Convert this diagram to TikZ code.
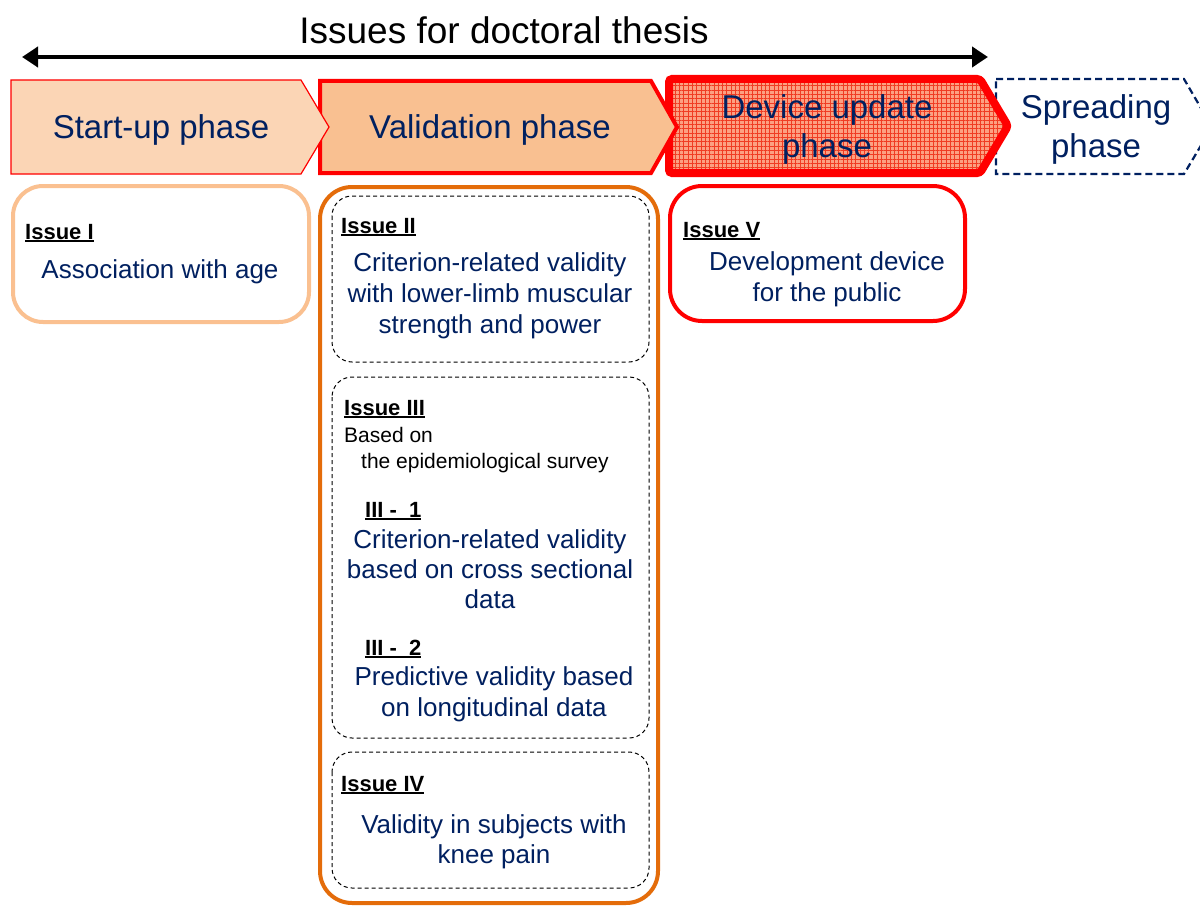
\documentclass[tikz,border=0pt]{standalone}
\usepackage{fontspec}
\setmainfont{Liberation Sans}
\usetikzlibrary{arrows.meta,patterns.meta}
\definecolor{navy}{RGB}{0,32,96}
\definecolor{startfill}{RGB}{251,213,181}
\definecolor{valfill}{RGB}{249,192,145}
\definecolor{devfill}{RGB}{252,160,130}
\definecolor{devline}{RGB}{240,60,35}
\definecolor{lorange}{RGB}{250,192,144}
\definecolor{dorange}{RGB}{228,108,10}
\newcommand{\mylab}[1]{\setbox0\hbox{\bfseries #1}\rlap{\rule[-3pt]{\wd0}{1.8pt}}\box0}
\tikzset{mytri/.tip={Triangle[length=16pt,width=20pt]}}
\begin{document}
\begin{tikzpicture}[x=1pt,y=-1pt,
  bluetxt/.style={text=navy, font=\fontsize{26}{31}\selectfont, anchor=base, inner sep=0pt},
  labtxt/.style={font=\fontsize{22}{26}\selectfont, anchor=base west, inner sep=0pt},
  smalltxt/.style={font=\fontsize{21}{25}\selectfont, anchor=base west, inner sep=0pt},
  phasetxt/.style={text=navy, font=\fontsize{33}{40}\selectfont, anchor=base, inner sep=0pt},
  issuebox/.style={line width=4pt, rounded corners=30pt},
  dashbox/.style={draw=black, line width=1pt, dash pattern=on 4pt off 3pt, rounded corners=20pt}
]
\clip (0,0) rectangle (1200,907);
\useasboundingbox (0,0) rectangle (1200,907);
\fill[white] (0,0) rectangle (1200,907);

% top arrow and title
\coordinate (aL) at (22,57);
\coordinate (aR) at (988,57);
\draw[line width=4.5pt, mytri-mytri] (aL) -- (aR);
\node[font=\fontsize{37}{44}\selectfont, anchor=base, inner sep=0pt] (title) at (504,44) {Issues for doctoral thesis};

% phase arrows
\draw[navy, line width=2.2pt, dash pattern=on 7pt off 4pt, fill=white]
  (996,79) -- (1184,79) -- (1212,127) -- (1184,174) -- (996,174) -- cycle;
\draw[red, line width=8pt, rounded corners=3pt,
  preaction={fill=devfill},
  preaction={pattern={Lines[angle=0,distance=4.3pt,line width=0.5pt]}, pattern color=devline},
  preaction={pattern={Lines[angle=90,distance=4.3pt,line width=0.5pt]}, pattern color=devline}]
  (669,79) -- (980,79) -- (1008,126) -- (980,173) -- (669,173) -- cycle;
\draw[red, line width=4pt, fill=valfill]
  (320,81) -- (651,81) -- (677,127) -- (651,173) -- (320,173) -- cycle;
\draw[red, line width=1.2pt, fill=startfill]
  (11,80) -- (301,80) -- (329,127) -- (301,174) -- (11,174) -- cycle;

\node[phasetxt] (pStart) at (161,138) {Start-up phase};
\node[phasetxt] (pVal) at (490,138) {Validation phase};
\node[phasetxt] (pDev1) at (827,118) {Device update};
\node[phasetxt] (pDev2) at (827,157) {phase};
\node[phasetxt] (pSpr1) at (1096,118) {Spreading};
\node[phasetxt] (pSpr2) at (1096,157) {phase};

% issue boxes
\draw[issuebox, lorange] (13,186) rectangle (309,322);
\draw[issuebox, dorange, rounded corners=32pt] (320,187) rectangle (658,903);
\draw[issuebox, red, rounded corners=32pt] (670,186) rectangle (965,321);
\draw[dashbox] (332,196) rectangle (649,362);
\draw[dashbox] (332,377) rectangle (649,738);
\draw[dashbox] (332,752) rectangle (649,888);

% Issue I
\node[labtxt] (l1) at (25,239) {\mylab{Issue I}};
\node[bluetxt] (t1a) at (160,278) {Association with age};

% Issue II
\node[labtxt] (l2) at (341,233) {\mylab{Issue II}};
\node[bluetxt] (t2a) at (490,271) {Criterion-related validity};
\node[bluetxt] (t2b) at (490,302) {with lower-limb muscular};
\node[bluetxt] (t2c) at (490,333) {strength and power};

% Issue III
\node[labtxt] (l3) at (344,415) {\mylab{Issue III}};
\node[smalltxt] (s3a) at (344,442) {Based on};
\node[smalltxt] (s3b) at (361,468) {the epidemiological survey};
\node[labtxt] (l31) at (365,517) {\mylab{III -\ \ 1}};
\node[bluetxt] (t31a) at (490,548) {Criterion-related validity};
\node[bluetxt] (t31b) at (490,578) {based on cross sectional};
\node[bluetxt] (t31c) at (490,608) {data};
\node[labtxt] (l32) at (365,655) {\mylab{III -\ \ 2}};
\node[bluetxt] (t32a) at (494,685) {Predictive validity based};
\node[bluetxt] (t32b) at (494,716) {on longitudinal data};

% Issue IV
\node[labtxt] (l4) at (341,791) {\mylab{Issue IV}};
\node[bluetxt] (t4a) at (494,833) {Validity in subjects with};
\node[bluetxt] (t4b) at (494,863) {knee pain};

% Issue V
\node[labtxt] (l5) at (683,237) {\mylab{Issue V}};
\node[bluetxt] (t5a) at (827,270) {Development device};
\node[bluetxt] (t5b) at (827,301) {for the public};
\end{tikzpicture}
\end{document}
